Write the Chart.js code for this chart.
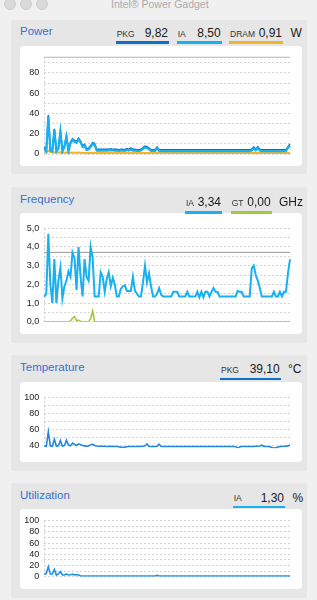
<!DOCTYPE html>
<html>
<head>
<meta charset="utf-8">
<title>Intel® Power Gadget</title>
<script src="https://cdn.jsdelivr.net/npm/chart.js@4.4.1/dist/chart.umd.min.js"></script>
<style>
  body { margin: 0; width: 317px; height: 600px; overflow: hidden; position: relative; background: #f0f0f0;
         font-family: "Liberation Sans", Helvetica, Arial, sans-serif; }
  .abs { position: absolute; white-space: nowrap; line-height: 1; }
  .light { position: absolute; top: -2px; width: 10px; height: 10px; border-radius: 50%; background: #dadada; border: 1px solid #cdcdcd; }
  .panel { position: absolute; left: 11px; width: 296px; background: #e6e6e6; border-radius: 3px; }
  canvas { position: absolute; left: 20px; background: #fff; border-radius: 4px; }
</style>
</head>
<body>
<div class="light" style="left:4px"></div>
<div class="light" style="left:20px"></div>
<div class="light" style="left:36px"></div>

<div class="panel" style="top:20px;height:154px"></div>
<div class="panel" style="top:187px;height:156px"></div>
<div class="panel" style="top:355px;height:116px"></div>
<div class="panel" style="top:483px;height:115px"></div>

<canvas id="power" width="282" height="120" style="top:46px"></canvas>
<canvas id="freq" width="282" height="121" style="top:213px"></canvas>
<canvas id="temp" width="282" height="80" style="top:382px"></canvas>
<canvas id="util" width="282" height="80" style="top:509px"></canvas>

<script>
// samples, left to right (one every ~2px)
const powerIA = [
    5.6, 2.5, 37, 3.5, 2.5, 23.5, 2.5, 5, 22, 2.5,
    7, 17, 2.5, 10.5, 13.8, 12, 11, 14.4, 11.5, 7,
    8.2, 4, 4.5, 7, 9.8, 9, 3.3, 3.5, 3.3, 3.5,
    3.3, 3.3, 3.5, 3.8, 3.5, 3.3, 3.3, 3, 3.3, 3.3,
    3, 4, 3.3, 4.6, 3.3, 3.3, 3, 3, 3.5, 5,
    6.5, 6, 4.5, 3, 3, 3, 5.6, 3, 2.8, 2.8,
    2.8, 2.8, 2.8, 2.8, 2.8, 2.8, 2.8, 2.8, 2.8, 2.8,
    2.8, 2.8, 2.8, 2.8, 2.8, 2.8, 2.8, 2.8, 2.8, 2.8,
    2.8, 2.8, 2.8, 2.8, 2.8, 2.8, 2.8, 2.8, 2.8, 2.8,
    2.8, 2.8, 2.8, 2.8, 2.8, 2.8, 2.8, 2.8, 2.8, 2.8,
    2.8, 2.8, 2.8, 3.5, 5.5, 3.5, 6, 3.5, 2.8, 2.8,
    2.8, 2.8, 2.8, 2.8, 2.8, 2.8, 2.8, 2.8, 2.8, 2.8,
    3, 6, 8.5
];
const powerPKG = [
    6.9, 3.8, 38.5, 4.8, 3.8, 24.8, 3.8, 6.3, 23.3, 3.8,
    8.3, 18.3, 3.8, 11.8, 15.1, 13.3, 12.3, 15.7, 12.8, 8.3,
    9.5, 5.3, 5.8, 8.3, 11.1, 10.3, 4.6, 4.8, 4.6, 4.8,
    4.6, 4.6, 4.8, 5.1, 4.8, 4.6, 4.6, 4.3, 4.6, 4.6,
    4.3, 5.3, 4.6, 5.9, 4.6, 4.6, 4.3, 4.3, 4.8, 6.3,
    7.8, 7.3, 5.8, 4.3, 4.3, 4.3, 6.9, 4.3, 4.1, 4.1,
    4.1, 4.1, 4.1, 4.1, 4.1, 4.1, 4.1, 4.1, 4.1, 4.1,
    4.1, 4.1, 4.1, 4.1, 4.1, 4.1, 4.1, 4.1, 4.1, 4.1,
    4.1, 4.1, 4.1, 4.1, 4.1, 4.1, 4.1, 4.1, 4.1, 4.1,
    4.1, 4.1, 4.1, 4.1, 4.1, 4.1, 4.1, 4.1, 4.1, 4.1,
    4.1, 4.1, 4.1, 4.8, 6.8, 4.8, 7.3, 4.8, 4.1, 4.1,
    4.1, 4.1, 4.1, 4.1, 4.1, 4.1, 4.1, 4.1, 4.1, 4.1,
    4.3, 7.3, 9.82
];
const powerDRAM = [
    1.5, 2.2, 3.3, 2.0, 1.5, 1.8, 1.3, 1.5, 1.6, 1.2,
    1.3, 1.4, 1.1, 1.3, 1.4, 1.3, 1.3, 1.4, 1.3, 1.1,
    1.1, 1.0, 1.0, 1.1, 1.2, 1.1, 0.9, 0.9, 0.9, 0.9,
    0.9, 0.9, 0.9, 0.9, 0.9, 0.9, 0.9, 0.9, 0.9, 0.9,
    0.9, 0.9, 0.9, 0.9, 0.9, 0.9, 0.9, 0.9, 0.9, 0.9,
    0.9, 0.9, 0.9, 0.9, 0.9, 0.9, 0.9, 0.9, 0.9, 0.9,
    0.9, 0.9, 0.9, 0.9, 0.9, 0.9, 0.9, 0.9, 0.9, 0.9,
    0.9, 0.9, 0.9, 0.9, 0.9, 0.9, 0.9, 0.9, 0.9, 0.9,
    0.9, 0.9, 0.9, 0.9, 0.9, 0.9, 0.9, 0.9, 0.9, 0.9,
    0.9, 0.9, 0.9, 0.9, 0.9, 0.9, 0.9, 0.9, 0.9, 0.9,
    0.9, 0.9, 0.9, 0.9, 0.9, 0.9, 0.9, 0.9, 0.9, 0.9,
    0.9, 0.9, 0.9, 0.9, 0.9, 0.9, 0.9, 0.9, 0.9, 0.9,
    0.9, 0.9, 0.91
];
const powerLimit = 96;
const powerGrid = [0, 10, 20, 30, 40, 50, 60, 70, 80, 90];
const powerTicks = [0, 20, 40, 60, 80];

const freqIA = [
    1.34, 1.5, 4.7, 2.0, 1.0, 3.35, 1.0, 2.2, 2.9, 1.25,
    1.9, 2.2, 2.7, 2.4, 3.7, 3.4, 1.7, 4.0, 2.4, 1.35,
    3.35, 2.4, 2.2, 4.0, 3.4, 1.35, 1.35, 1.35, 2.65, 2.4,
    1.6, 2.3, 2.65, 1.9, 2.35, 2.0, 1.35, 1.35, 1.75, 1.9,
    1.95, 1.65, 1.65, 1.65, 2.4, 1.65, 1.5, 1.35, 1.35, 2.1,
    3.0, 2.1, 2.6, 1.9, 1.35, 1.35, 1.5, 1.8, 1.45, 1.35,
    1.35, 1.35, 1.35, 1.35, 1.6, 1.6, 1.6, 1.35, 1.35, 1.35,
    1.35, 1.6, 1.35, 1.35, 1.35, 1.35, 1.6, 1.3, 1.6, 1.3,
    1.6, 1.6, 1.35, 1.6, 1.8, 1.6, 1.6, 1.35, 1.35, 1.35,
    1.35, 1.35, 1.35, 1.35, 1.35, 1.35, 1.65, 1.6, 1.6, 1.35,
    1.35, 1.35, 1.35, 2.85, 3.0, 2.5, 2.2, 1.8, 1.35, 1.35,
    1.35, 1.35, 1.35, 1.35, 1.6, 1.35, 1.35, 1.6, 1.35, 1.6,
    1.6, 2.6, 3.34
];
const freqGT = [
    0, 0, 0, 0, 0, 0, 0, 0, 0, 0,
    0, 0, 0, 0.03, 0.2, 0.27, 0.05, 0.08, 0.02, 0,
    0, 0, 0, 0.15, 0.57, 0, 0, 0, 0, 0,
    0, 0, 0, 0, 0, 0, 0, 0, 0, 0,
    0, 0, 0, 0, 0, 0, 0, 0, 0, 0,
    0, 0, 0, 0, 0, 0, 0, 0, 0, 0,
    0, 0, 0, 0, 0, 0, 0, 0, 0, 0,
    0, 0, 0, 0, 0, 0, 0, 0, 0, 0,
    0, 0, 0, 0, 0, 0, 0, 0, 0, 0,
    0, 0, 0, 0, 0, 0, 0, 0, 0, 0,
    0, 0, 0, 0, 0, 0, 0, 0, 0, 0,
    0, 0, 0, 0, 0, 0, 0, 0, 0, 0,
    0, 0, 0
];
const freqLimit = 3.71;
const freqGrid = [0, 0.5, 1, 1.5, 2, 2.5, 3, 3.5, 4, 4.5, 5];
const freqTicks = [0, 1, 2, 3, 4, 5];

const tempPKG = [
    40, 39.5, 57.5, 40, 39.5, 48, 39.5, 40, 46.5, 39.5,
    40.5, 47, 41, 40, 43.5, 42, 40.5, 42.5, 41.5, 40.5,
    40, 39.5, 40, 41.5, 42, 40.5, 39.8, 39.5, 39.5, 39.5,
    39.5, 39.3, 39.3, 39.5, 39.3, 39.3, 39.3, 39, 38.5, 38.3,
    38.5, 39, 39.3, 39.3, 39.3, 39.3, 39.3, 39.3, 39.3, 39.5,
    40, 42.5, 39.3, 39.3, 39.3, 39.3, 39.5, 42, 39.3, 39.3,
    39.3, 39.3, 39.3, 39.3, 39.3, 39.3, 39.3, 39.3, 39.3, 39.3,
    39.3, 39.3, 39.3, 39.3, 39.3, 39.3, 39.3, 39.3, 39.3, 39.3,
    39.3, 39.3, 39.3, 39.3, 39.3, 39.3, 39.3, 39.3, 39.3, 39.3,
    39.3, 39.3, 39.3, 39.3, 39.3, 39, 37.5, 38.5, 39.3, 39.3,
    39.3, 39.3, 39.3, 39.3, 39.3, 39.5, 39.5, 39.8, 40.8, 39.3,
    39.3, 39.3, 39, 38, 37.3, 37.5, 38.5, 39.3, 39.3, 39.5,
    39.5, 40, 41
];
const tempGrid = [40, 50, 60, 70, 80, 90, 100];
const tempTicks = [40, 60, 80, 100];

const utilIA = [
    4, 6, 18, 5, 4.8, 13, 3, 5, 9, 3,
    3, 5, 3, 3.5, 4.5, 3, 4, 3, 1.5, 1.3,
    1.3, 1.3, 1.3, 1.3, 1.3, 1.3, 1.3, 1.3, 1.3, 1.3,
    1.3, 1.3, 1.3, 1.3, 1.3, 1.3, 1.3, 1.3, 1.3, 1.3,
    1.3, 1.3, 1.3, 1.3, 1.3, 1.3, 1.3, 1.3, 1.3, 1.3,
    1.3, 1.3, 1.3, 1.3, 1.3, 1.3, 2.4, 1.3, 1.3, 1.3,
    1.3, 1.3, 1.3, 1.3, 1.3, 1.3, 1.3, 1.3, 1.3, 1.3,
    1.3, 1.3, 1.3, 1.3, 1.3, 1.3, 1.3, 1.3, 1.3, 1.3,
    1.3, 1.3, 1.3, 1.3, 1.3, 1.3, 1.3, 1.3, 1.3, 1.3,
    1.3, 1.3, 1.3, 1.3, 1.3, 1.3, 1.3, 1.3, 1.3, 1.3,
    1.3, 1.3, 1.3, 1.3, 1.3, 1.3, 1.3, 1.3, 1.3, 1.3,
    1.3, 1.3, 1.3, 1.3, 1.3, 1.3, 1.3, 1.3, 1.3, 1.3,
    1.3, 1.3, 1.3
];
const utilGrid = [0, 10, 20, 30, 40, 50, 60, 70, 80, 90, 100];
const utilTicks = [0, 20, 40, 60, 80, 100];

const samples = freqIA.map((_, i) => i);
const lastSample = samples[samples.length - 1];

const FONT = '"Liberation Sans", Helvetica, Arial, sans-serif';
const BLUE_DARK = '#0c71c6', BLUE_LIGHT = '#17b0f0', ORANGE = '#f5b325', GREEN = '#a3c83c';

// text helpers, x/baseline in page pixels
function put(text, x, base, size, color, right) {
    const d = document.createElement('div');
    d.className = 'abs';
    d.textContent = text;
    d.style.fontSize = size + 'px';
    d.style.color = color;
    d.style.top = (base - size * 0.85) + 'px';
    if (right) {
        d.style.left = (x - 100) + 'px';
        d.style.width = '100px';
        d.style.textAlign = 'right';
    } else {
        d.style.left = x + 'px';
    }
    document.body.appendChild(d);
}
function bar(x1, x2, y, h, color) {
    const d = document.createElement('div');
    d.className = 'abs';
    Object.assign(d.style, { left: x1 + 'px', top: y + 'px', width: (x2 - x1) + 'px', height: h + 'px', background: color });
    document.body.appendChild(d);
}
function item(label, value, x1, x2, base, lineY, color) {
    put(label, x1 + 1, base, 8.5, '#333');
    put(value, x2 - 1, base, 12, '#1a1a1a', true);
    bar(x1, x2, lineY, 2.5, color);
}

put('Intel® Power Gadget', 111, 8, 10.5, '#ababab');

put('Power', 20, 36, 11.5, '#3571d3');
item('PKG', '9,82', 115.7, 169, 37.3, 41.2, BLUE_DARK);
item('IA', '8,50', 176.7, 221.7, 37.3, 41.2, BLUE_LIGHT);
item('DRAM', '0,91', 229, 283, 37.3, 41.2, ORANGE);
put('W', 290.5, 37.3, 12, '#1a1a1a');

put('Frequency', 20, 204, 11.5, '#3571d3');
item('IA', '3,34', 185, 222, 206, 211, BLUE_LIGHT);
item('GT', '0,00', 230.7, 271.7, 206, 211, GREEN);
put('GHz', 279, 206, 12, '#1a1a1a');

put('Temperature', 20, 372, 11.5, '#3571d3');
item('PKG', '39,10', 220, 280.7, 373.3, 377.5, BLUE_DARK);
put('°C', 288, 373.3, 12, '#1a1a1a');

put('Utilization', 20, 499.3, 11.5, '#3571d3');
item('IA', '1,30', 232.7, 285, 501.7, 505.8, BLUE_LIGHT);
put('%', 292.5, 501.7, 12, '#1a1a1a');

function series(data, color, width) {
    return { data, borderColor: color, borderWidth: width, pointRadius: 0, tension: 0, fill: false };
}
function refLine(value, color, width) {
    return series([{ x: 0, y: value }, { x: lastSample, y: value }], color, width);
}

function makeChart(id, datasets, y, padding) {
    return new Chart(document.getElementById(id), {
        type: 'line',
        data: { labels: samples, datasets },
        options: {
            responsive: false,
            animation: false,
            devicePixelRatio: 1,
            layout: { padding: { left: 0, right: 12, top: padding[0], bottom: padding[1] } },
            plugins: { legend: { display: false }, tooltip: { enabled: false } },
            scales: {
                x: {
                    offset: false,
                    ticks: { display: false },
                    grid: {
                        drawTicks: false,
                        color: (c) => c.index === 0 ? '#cdcdcd' : 'rgba(0,0,0,0)'
                    },
                    border: { display: false, dash: [2, 2] }
                },
                y: {
                    min: y.min,
                    max: y.max,
                    afterBuildTicks: (axis) =>
                    {
                        axis.ticks = y.grid.map(v => ({ value: v }));
                    },
                    afterFit: (axis) =>
                    {
                        axis.width = 24.3;
                    },
                    ticks: {
                        autoSkip: false,
                        padding: 5,
                        color: '#222',
                        font: { family: FONT, size: 9 },
                        callback: (v) => y.ticks.includes(v) ? y.fmt(v) : ''
                    },
                    grid: { drawTicks: false, color: '#d3d3d3', lineWidth: 1 },
                    border: { display: false, dash: [2, 2] }
                }
            }
        }
    });
}

const intLabel = (v) => String(v);
const commaLabel = (v) => v.toFixed(1).replace('.', ',');

makeChart('power', [
    series(powerIA, BLUE_LIGHT, 2.2),
    series(powerPKG, BLUE_DARK, 1.5),
    series(powerDRAM, ORANGE, 2),
    refLine(powerLimit, '#b5b5b5', 2)
], { min: 0, max: 96, grid: powerGrid, ticks: powerTicks, fmt: intLabel }, [10.7, 12]);

makeChart('freq', [
    series(freqIA, BLUE_LIGHT, 2),
    series(freqGT, GREEN, 1.6),
    refLine(freqLimit, '#9a9a9a', 1)
], { min: 0, max: 5, grid: freqGrid, ticks: freqTicks, fmt: commaLabel }, [15.3, 12.3]);

makeChart('temp', [
    series(tempPKG, '#2488da', 1.6)
], { min: 37, max: 100, grid: tempGrid, ticks: tempTicks, fmt: intLabel }, [15.3, 13.7]);

makeChart('util', [
    series(utilIA, '#1f93e2', 1.6)
], { min: 0, max: 100, grid: utilGrid, ticks: utilTicks, fmt: intLabel }, [11.7, 12.3]);
</script>
</body>
</html>
